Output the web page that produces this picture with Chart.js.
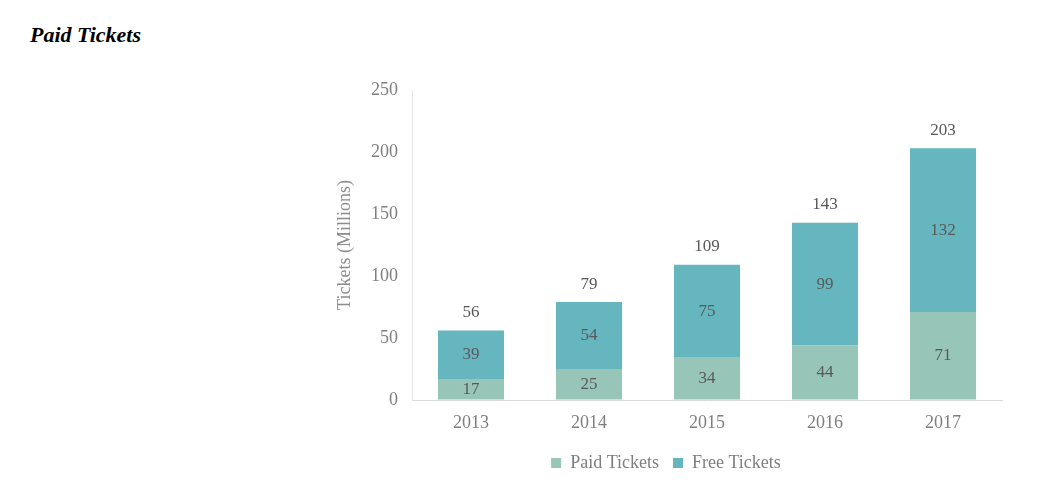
<!DOCTYPE html>
<html>
<head>
<meta charset="utf-8">
<script src="https://cdn.jsdelivr.net/npm/chart.js@4/dist/chart.umd.min.js"></script>
<style>
  body { margin: 0; background: #fff; width: 1046px; height: 482px; overflow: hidden; position: relative; }
  h3 { position: absolute; left: 30px; top: 22px; margin: 0; font: italic bold 22px "Liberation Serif", serif; color: #000; }
  #wrap { position: absolute; left: 272px; top: 0; width: 774px; height: 482px; }
</style>
</head>
<body>
<h3>Paid Tickets</h3>
<div id="wrap"><canvas id="ticketsChart"></canvas></div>
<script>
const years = ['2013', '2014', '2015', '2016', '2017'];
const paidTickets = [17, 25, 34, 44, 71];
const freeTickets = [39, 54, 75, 99, 132];
const yTicks = [0, 50, 100, 150, 200, 250];

const serif = '"Liberation Serif", "Times New Roman", serif';

// draws the numbers inside each segment and the total over each stack
const barLabels = {
  id: 'barLabels',
  afterDatasetsDraw(chart) {
    const ctx = chart.ctx;
    ctx.save();
    ctx.font = '17px ' + serif;
    ctx.fillStyle = '#595959';
    ctx.textAlign = 'center';
    ctx.textBaseline = 'middle';
    chart.data.datasets.forEach(function (ds, i) {
      const meta = chart.getDatasetMeta(i);
      meta.data.forEach(function (bar, j) {
        ctx.fillText(ds.data[j], bar.x, (bar.y + bar.base) / 2);
      });
    });
    const top = chart.getDatasetMeta(chart.data.datasets.length - 1);
    top.data.forEach(function (bar, j) {
      ctx.fillText(paidTickets[j] + freeTickets[j], bar.x, bar.y - 18);
    });
    ctx.restore();
  }
};

const ctx = document.getElementById('ticketsChart').getContext('2d');
new Chart(ctx, {
  type: 'bar',
  data: {
    labels: years,
    datasets: [{
      label: 'Paid Tickets',
      data: paidTickets,
      backgroundColor: '#97c6b8'
    }, {
      label: 'Free Tickets',
      data: freeTickets,
      backgroundColor: '#66b6c0'
    }]
  },
  options: {
    responsive: true,
    maintainAspectRatio: false,
    animation: false,
    categoryPercentage: 1,
    barPercentage: 0.56,
    layout: { padding: { left: 58, top: 90, right: 44, bottom: 0 } },
    scales: {
      x: {
        stacked: true,
        grid: { display: true, drawOnChartArea: false, drawTicks: false },
        border: { color: '#d9d9d9' },
        ticks: { color: '#7f7f7f', font: { family: serif, size: 18 }, padding: 12 },
        afterFit(scale) { scale.height = 40; }
      },
      y: {
        stacked: true,
        min: 0,
        max: 250,
        afterBuildTicks(scale) { scale.ticks = yTicks.map(v => ({ value: v })); },
        grid: { display: true, drawOnChartArea: false, drawTicks: false },
        border: { color: '#e6e6e6' },
        ticks: { color: '#7f7f7f', font: { family: serif, size: 18 }, padding: 14 },
        title: { display: true, text: 'Tickets (Millions)', color: '#8c8c8c', font: { family: serif, size: 18 } },
        afterFit(scale) { scale.width = 82; }
      }
    },
    plugins: {
      legend: {
        position: 'bottom',
        labels: { color: '#7f7f7f', font: { family: serif, size: 18 }, boxWidth: 10, boxHeight: 10, padding: 14 }
      },
      tooltip: { enabled: false }
    }
  },
  plugins: [barLabels]
});
</script>
</body>
</html>
